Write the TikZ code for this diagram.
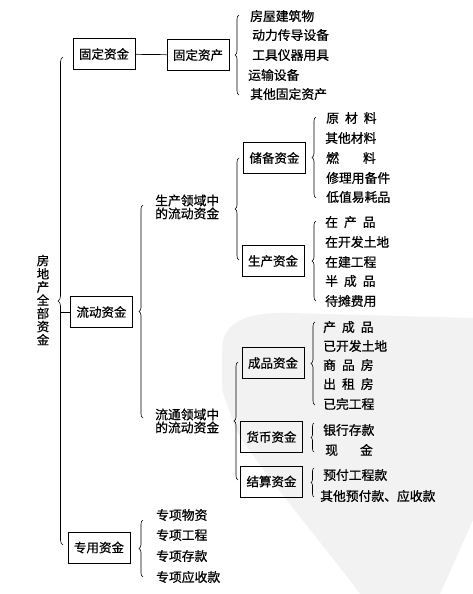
\documentclass[tikz,border=0pt]{standalone}
\usepackage{fontspec}
\newfontfamily\cjk[FakeBold=0.7]{Noto Sans CJK SC}
\usetikzlibrary{decorations.pathreplacing}
\newcommand{\gapx}[1]{\hspace*{#1pt}}
\begin{document}
\begin{tikzpicture}[x=1pt,y=-1pt,
  box/.style={draw, line width=0.8pt, minimum width=62pt, minimum height=31pt, inner sep=0pt, font=\cjk\fontsize{12.5}{13}\selectfont},
  item/.style={anchor=west, inner sep=0pt, font=\cjk\fontsize{12.8}{14.5}\selectfont},
  vtext/.style={align=center, inner sep=0pt, font=\cjk\fontsize{12.5}{13.2}\selectfont},
  br/.style={decorate, decoration={brace, amplitude=4pt}, line width=0.6pt},
  ln/.style={line width=0.7pt}]
\useasboundingbox (0,0) rectangle (473,594);
% watermark (scan background)
\fill[gray!10] (222,350) .. controls (222,320) and (250,312) .. (290,313) -- (473,318) -- (473,520) -- (440,594) -- (360,594) .. controls (320,540) and (260,470) .. (236,430) -- (222,390) -- cycle;

% root
\node[vtext] (root) at (43,300) {房\\地\\产\\全\\部\\资\\金};
\draw[br, decoration={amplitude=5pt}] (63,545) -- (63,57);

% fixed
\node[box] (gdzj) at (104,54) {固定资金};
\node[box] (gdzc) at (198,55) {固定资产};
\draw[ln] (gdzj) -- (gdzc);
\draw[br] (239,95) -- (239,15);
\node[item] (g1) at (250,16) {房屋建筑物};
\node[item] (g2) at (252,35) {动力传导设备};
\node[item] (g3) at (252,55) {工具仪器用具};
\node[item] (g4) at (248,75) {运输设备};
\node[item] (g5) at (250,94) {其他固定资产};

% current
\coordinate (lc) at (60.5,312);
\node[box] (ldzj) at (101.5,312) {流动资金};
\draw[ln] (lc) -- (ldzj.west);
\draw[br] (143,418) -- (143,205);
\node[item, align=left] (scly) at (155,207) {生产领域中\\[-1.5pt]的流动资金};
\node[item, align=left] (ltly) at (155,421) {流通领域中\\[-1.5pt]的流动资金};

% production sphere
\draw[br] (239,260) -- (239,158);
\node[box] (cbzj) at (274.5,158) {储备资金};
\draw[br] (316,198) -- (316,117);
\node[item] (c1) at (326,118) {原\gapx{6}材\gapx{6}料};
\node[item] (c2) at (325,138) {其他材料};
\node[item] (c3) at (326,158) {燃\gapx{24}料};
\node[item] (c4) at (326,178) {修理用备件};
\node[item] (c5) at (326,197) {低值易耗品};

\node[box] (sczj) at (273,261) {生产资金};
\draw[br] (316,301) -- (316,221);
\node[item] (s1) at (325,222) {在\gapx{6}产\gapx{6}品};
\node[item] (s2) at (325,242) {在开发土地};
\node[item] (s3) at (325,262) {在建工程};
\node[item] (s4) at (325,281) {半\gapx{6}成\gapx{6}品};
\node[item] (s5) at (325,301) {待摊费用};

% circulation sphere
\draw[br] (238,480) -- (238,362);
\node[box] (cpzj) at (273,363) {成品资金};
\draw[br] (315,405) -- (315,322);
\node[item] (p1) at (323,327) {产\gapx{6}成\gapx{6}品};
\node[item] (p2) at (323,346) {已开发土地};
\node[item] (p3) at (323,365) {商\gapx{6}品\gapx{6}房};
\node[item] (p4) at (323,384) {出\gapx{6}租\gapx{6}房};
\node[item] (p5) at (323,404) {已完工程};

\node[box] (hbzj) at (271.5,437) {货币资金};
\draw[br, decoration={amplitude=3pt}] (314,452) -- (314,423);
\node[item] (h1) at (323,430) {银行存款};
\node[item] (h2) at (325,450) {现\gapx{22}金};

\node[box] (jszj) at (271.5,481.5) {结算资金};
\draw[br, decoration={amplitude=3pt}] (314,497) -- (314,468);
\node[item] (j1) at (323,475) {预付工程款};
\node[item] (j2) at (320,496) {其他预付款、应收款};

% special
\node[box] (zyzj) at (99,547.5) {专用资金};
\draw[br] (143,577) -- (143,520);
\node[item] (z1) at (156,515) {专项物资};
\node[item] (z2) at (156,535) {专项工程};
\node[item] (z3) at (156,556) {专项存款};
\node[item] (z4) at (156,577) {专项应收款};
\end{tikzpicture}
\end{document}
